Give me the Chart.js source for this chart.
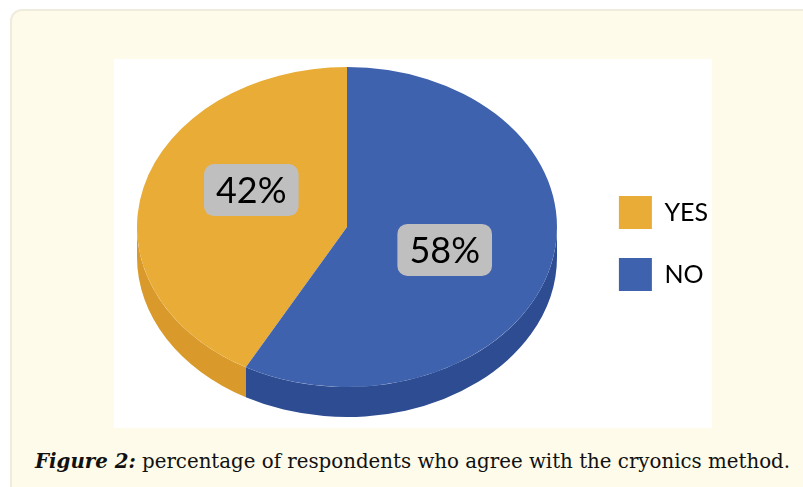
<!DOCTYPE html>
<html>
<head>
<meta charset="utf-8">
<script src="https://cdn.jsdelivr.net/npm/chart.js@4"></script>
<style>
  html, body { margin: 0; padding: 0; background: #fff; }
  body { width: 803px; height: 487px; overflow: hidden; position: relative; }
  .panel {
    position: absolute; left: 10px; top: 9px; width: 900px; height: 600px;
    background: #fefbea; border: 2px solid #efecdd; border-radius: 12px;
  }
  .plot {
    position: absolute; left: 114px; top: 59px; width: 598px; height: 369px;
    background: #fff;
  }
  .caption {
    position: absolute; left: 35px; top: 449px; white-space: nowrap;
    font-family: "DejaVu Serif", serif; font-size: 19.8px; color: #111;
  }
  .caption b { font-style: italic; }
</style>
</head>
<body>
<div class="panel"></div>
<div class="plot"><canvas id="pie" width="598" height="369"></canvas></div>
<div class="caption"><b>Figure 2:</b> percentage of respondents who agree with the cryonics method.</div>
<script>
const labels = ['YES', 'NO'];
const values = [42, 58];
const topColors = ['#e8ac37', '#3f62ae'];
const sideColors = ['#d99a2b', '#2d4c92'];

// draws the pie as a tilted disc: stretched sideways, with a wall underneath
const tilt3d = {
  id: 'tilt3d',
  beforeDatasetsDraw(chart, args, opts) {
    const meta = chart.getDatasetMeta(0);
    const first = meta.data[0];
    const cx = first.x, cy = first.y, r = first.outerRadius;
    const s = opts.stretch;
    const nx = chart.chartArea.left + r * s;
    const ctx = chart.ctx;
    ctx.save();
    ctx.translate(nx, 0);
    ctx.scale(s, 1);
    ctx.translate(-cx, 0);
    meta.data.forEach((arc, i) => {
      for (let k = -1; k <= 2; k++) {
        const lo = Math.max(arc.startAngle, 2 * Math.PI * k);
        const hi = Math.min(arc.endAngle, 2 * Math.PI * k + Math.PI);
        if (hi <= lo) continue;
        ctx.beginPath();
        ctx.arc(cx, cy, r, lo, hi);
        ctx.arc(cx, cy + opts.depth, r, hi, lo, true);
        ctx.closePath();
        ctx.fillStyle = sideColors[i];
        ctx.fill();
      }
    });
  },
  afterDatasetsDraw(chart, args, opts) {
    const ctx = chart.ctx;
    ctx.restore();
    const meta = chart.getDatasetMeta(0);
    const first = meta.data[0];
    const cx = first.x, cy = first.y, r = first.outerRadius;
    const s = opts.stretch;
    const nx = chart.chartArea.left + r * s;
    const total = values.reduce((a, b) => a + b, 0);
    ctx.save();
    ctx.font = '36px Lato';
    ctx.textAlign = 'center';
    ctx.textBaseline = 'middle';
    meta.data.forEach((arc, i) => {
      const mid = (arc.startAngle + arc.endAngle) / 2;
      const px = nx + Math.cos(mid) * r * opts.labelRadius * s + opts.shift[i][0];
      const py = cy + Math.sin(mid) * r * opts.labelRadius + opts.shift[i][1];
      const text = Math.round(values[i] / total * 100) + '%';
      const w = ctx.measureText(text).width + 24;
      const h = 52;
      ctx.fillStyle = '#bfbfbf';
      ctx.beginPath();
      ctx.roundRect(px - w / 2, py - h / 2, w, h, 10);
      ctx.fill();
      ctx.fillStyle = '#000';
      ctx.fillText(text, px, py + 1);
    });
    ctx.restore();
  }
};

new Chart(document.getElementById('pie'), {
  type: 'pie',
  data: {
    labels: labels,
    datasets: [{
      data: values,
      backgroundColor: topColors,
      borderWidth: 0,
      clip: false,
    }],
  },
  options: {
    responsive: false,
    animation: false,
    rotation: 360 * values[1] / (values[0] + values[1]),
    layout: { padding: { left: 23, top: 8, bottom: 41, right: -6 } },
    plugins: {
      tooltip: { enabled: false },
      legend: {
        position: 'right',
        title: {
          display: true,
          text: ' ',
          font: { size: 10 },
          padding: { top: 0, bottom: 21 },
        },
        labels: {
          boxWidth: 33,
          boxHeight: 33,
          padding: 29,
          color: '#000',
          font: { family: 'Lato', size: 25 },
        },
      },
      tilt3d: {
        stretch: 210 / 160,
        depth: 30,
        labelRadius: 0.5,
        shift: [[6, -17], [-4, 3]],
      },
    },
  },
  plugins: [tilt3d],
});
</script>
</body>
</html>
